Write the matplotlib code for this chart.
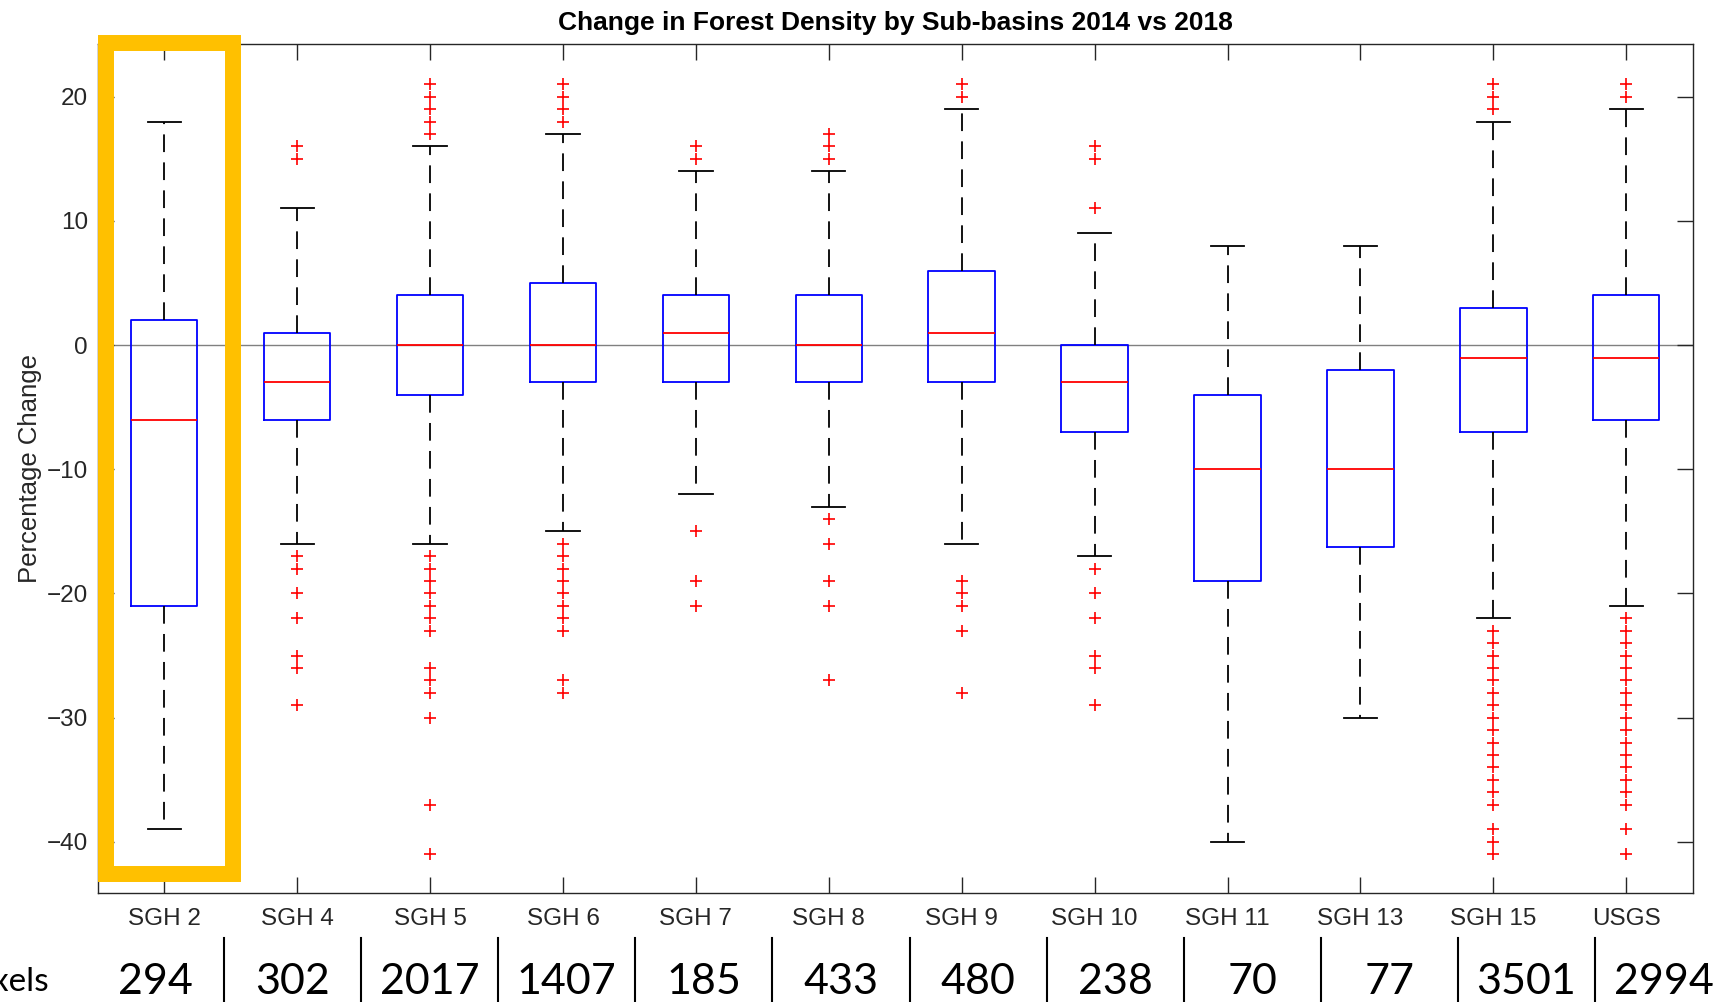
import matplotlib
matplotlib.use("Agg")
import matplotlib.pyplot as plt
from matplotlib import font_manager
from matplotlib.lines import Line2D
from matplotlib.patches import Rectangle

# ---- data -------------------------------------------------------------------
labels = ["SGH 2", "SGH 4", "SGH 5", "SGH 6", "SGH 7", "SGH 8",
          "SGH 9", "SGH 10", "SGH 11", "SGH 13", "SGH 15", "USGS"]
q1 = [-21, -6, -4, -3, -3, -3, -3, -7, -19, -16.25, -7, -6]
med = [-6, -3, 0, 0, 1, 0, 1, -3, -10, -10, -1, -1]
q3 = [2, 1, 4, 5, 4, 4, 6, 0, -4, -2, 3, 4]
whis_lo = [-39, -16, -16, -15, -12, -13, -16, -17, -40, -30, -22, -21]
whis_hi = [18, 11, 16, 17, 14, 14, 19, 9, 8, 8, 18, 19]
fliers = [
    [],
    [15, 16, -17, -18, -20, -22, -25, -26, -29],
    [17, 18, 19, 20, 21, -17, -18, -19, -20, -21, -22, -23, -26, -27, -28, -30, -37, -41],
    [18, 19, 20, 21, -16, -17, -18, -19, -20, -21, -22, -23, -27, -28],
    [15, 16, -15, -19, -21],
    [15, 16, 17, -14, -16, -19, -21, -27],
    [20, 21, -19, -20, -21, -23, -28],
    [11, 15, 16, -18, -20, -22, -25, -26, -29],
    [],
    [],
    [19, 20, 21, -23, -24, -25, -26, -27, -28, -29, -30, -31, -32, -33, -34, -35,
     -36, -37, -39, -40, -41],
    [20, 21, -22, -23, -24, -25, -26, -27, -28, -29, -30, -31, -32, -33, -34, -35,
     -36, -37, -39, -41],
]
pixel_counts = [294, 302, 2017, 1407, 185, 433, 480, 238, 70, 77, 3501, 2994]
yticks = [-40, -30, -20, -10, 0, 10, 20]

W, H = 1717, 1002
installed = {f.name for f in font_manager.fontManager.ttflist}
table_font = "Liberation Sans Narrow" if "Liberation Sans Narrow" in installed else "Lato"
plt.rcParams["font.family"] = ["Liberation Sans", "DejaVu Sans"]

fig = plt.figure(figsize=(W / 100, H / 100), dpi=100)
ax = fig.add_axes([97.8 / W, 1 - 892.8 / H, 1594.9 / W, 848.9 / H])

positions = list(range(1, len(labels) + 1))
stats = [dict(label=lab, q1=a, med=m, q3=b, whislo=lo, whishi=hi, fliers=f)
         for lab, a, m, b, lo, hi, f in zip(labels, q1, med, q3, whis_lo, whis_hi, fliers)]

ax.axhline(0, color="#808080", lw=1.0, zorder=1)
ax.bxp(stats, positions=positions, widths=0.5, capwidths=0.25, showfliers=True,
       boxprops=dict(color="blue", lw=1.3),
       medianprops=dict(color="red", lw=1.3),
       whiskerprops=dict(color="black", lw=1.3, linestyle=(0, (9.8, 5.7))),
       capprops=dict(color="black", lw=1.3),
       flierprops=dict(marker="+", markeredgecolor="red", markersize=9,
                       markeredgewidth=1.2, linestyle="none"))

ax.set_xlim(0.5, 12.5)
ax.set_ylim(-44.1, 24.25)
ax.set_yticks(yticks)
ax.set_xticks(positions, labels)
ax.tick_params(direction="in", length=11.5, width=1.0, color="#262626",
               labelcolor="#262626", labelsize=17.5, top=True, right=True)
ax.tick_params(axis="x", pad=11)
ax.tick_params(axis="y", pad=7)
for sp in ax.spines.values():
    sp.set_color("#262626")
    sp.set_linewidth(1.0)

fig.text(895 / W, 1 - 29.6 / H, "Change in Forest Density by Sub-basins 2014 vs 2018",
         ha="center", va="baseline", fontsize=19, fontweight="bold", color="black")
fig.text(30 / W, 1 - 468.7 / H, "Percentage Change", rotation=90,
         ha="center", va="center", fontsize=18.5, color="#262626")

# highlight around the first sub-basin
ax.add_patch(Rectangle((0.562, -42.6), 1.521 - 0.562, 24.35 + 42.6, fill=False,
                       edgecolor="#FFC000", lw=11.5, joinstyle="miter",
                       clip_on=False, zorder=10))

# pixel-count strip under the chart (the row label runs off the left edge, as in the source)
sep0, step = 224, 137.1
for k in range(len(pixel_counts) - 1):
    x = (sep0 + step * k) / W
    fig.add_artist(Line2D([x, x], [1 - 938 / H, 0], transform=fig.transFigure,
                          color="black", lw=1.5))
for k, n in enumerate(pixel_counts):
    cx = sep0 + step * (k - 0.5)
    fig.text(cx / W, 1 - 994 / H, str(n), ha="center", va="baseline",
             fontsize=31, family=table_font, color="black")
fig.text(49 / W, 1 - 991 / H, "Pixels", ha="right", va="baseline",
         fontsize=24, family=table_font, color="black")

fig.savefig("out.png", dpi=100)
